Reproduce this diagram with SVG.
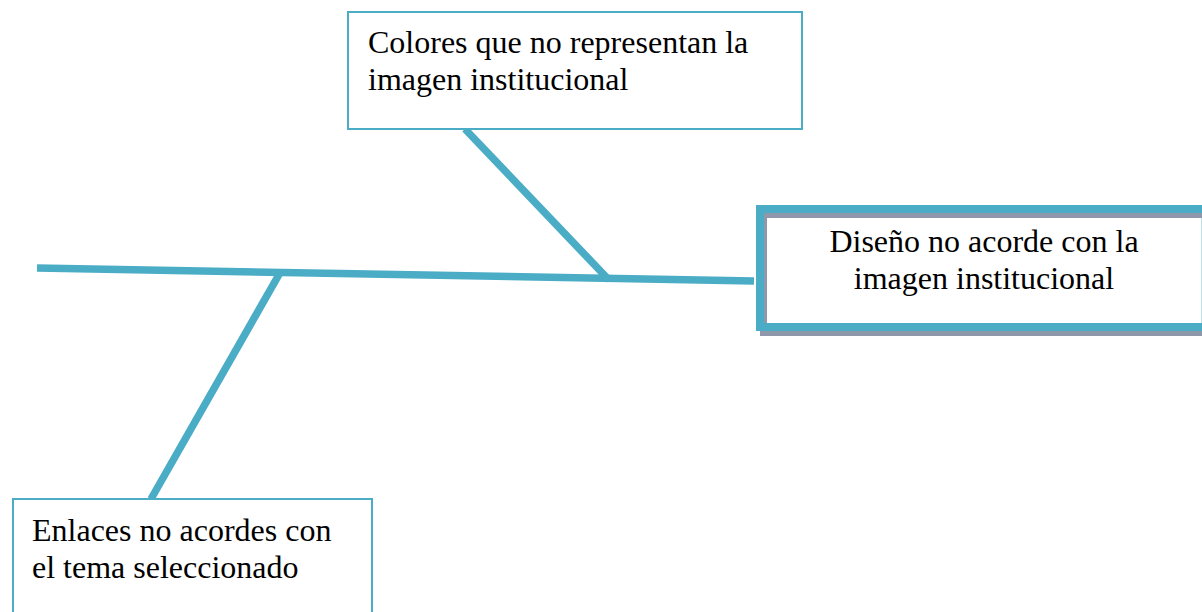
<svg xmlns="http://www.w3.org/2000/svg" width="1202" height="612" viewBox="0 0 1202 612">
<style>
.lbl{font-family:"Liberation Serif","Times New Roman",serif;font-size:32px;fill:#000}
.box{fill:#fff;stroke:#4BACC6;stroke-width:2}
.bone{stroke:#4BACC6;stroke-width:7.5;fill:none;stroke-linecap:butt}
</style>
<rect x="0" y="0" width="1202" height="612" fill="#fff"/>
<g id="connectors">
<line class="bone" x1="37" y1="268" x2="754" y2="281"/>
<line class="bone" x1="465" y1="129" x2="609" y2="280"/>
<line class="bone" x1="281" y1="271" x2="151" y2="499"/>
</g>
<g id="node-colores">
<rect class="box" x="348" y="12" width="454" height="117"/>
<text class="lbl" x="368" y="53">Colores que no representan la</text>
<text class="lbl" x="368" y="90">imagen institucional</text>
</g>
<g id="node-enlaces">
<rect class="box" x="13" y="499" width="359" height="130"/>
<text class="lbl" x="32" y="541">Enlaces no acordes con</text>
<text class="lbl" x="32" y="578">el tema seleccionado</text>
</g>
<g id="node-diseno">
<rect x="760" y="213" width="450" height="123" fill="#8e98aa"/>
<rect x="756" y="205" width="460" height="126" fill="#4BACC6"/>
<rect x="764" y="213" width="450" height="110" fill="#8e98aa"/>
<rect x="767" y="218" width="450" height="105" fill="#fff"/>
<line x1="1201.5" y1="218" x2="1201.5" y2="323" stroke="#bfe0ea" stroke-width="1"/>
<text class="lbl" x="984" y="252" text-anchor="middle">Diseño no acorde con la</text>
<text class="lbl" x="984" y="289" text-anchor="middle">imagen institucional</text>
</g>
</svg>
